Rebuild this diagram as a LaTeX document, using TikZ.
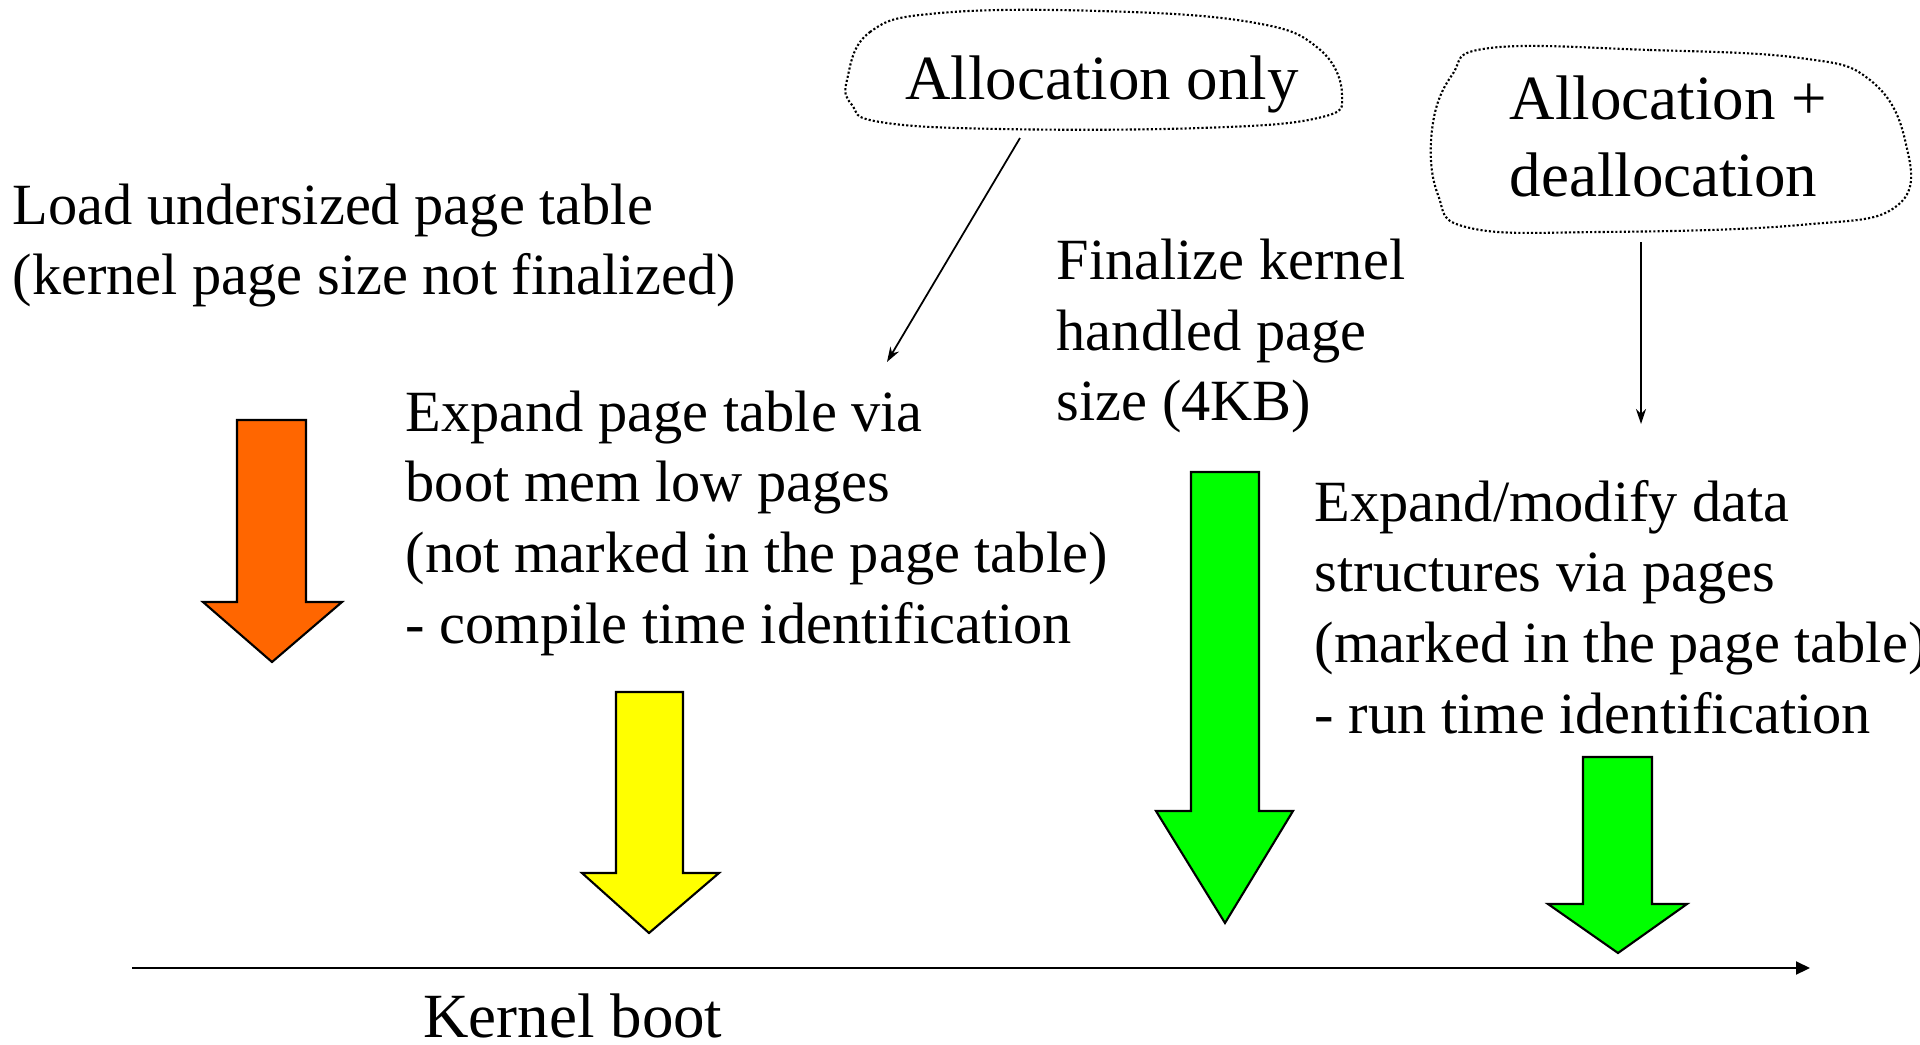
\documentclass[tikz,border=0pt]{standalone}
\usepackage{fontspec}
\setmainfont{Liberation Serif}
\usepackage{xcolor}
\usetikzlibrary{arrows.meta}
\definecolor{bootorange}{HTML}{FF6600}
\definecolor{bootyellow}{HTML}{FFFF00}
\definecolor{bootgreen}{HTML}{00FF00}

\begin{document}
\begin{tikzpicture}[x=0.01cm, y=0.01cm]
					\tikzstyle{every node}+=[inner sep=0pt]
					\tikzstyle{stagelabel}=[anchor=west, align=left, font=\fontsize{16.6}{20.1}\selectfont]
					\tikzstyle{cloudlabel}=[font=\fontsize{17.9}{21.8}\selectfont]
					\tikzstyle{cloudline}=[black, line width=0.6pt, dash pattern=on 0.6pt off 0.6pt]
					\tikzstyle{hint}=[black, line width=0.5pt, -{Stealth[length=0.15cm,width=0.1cm]}]
					\tikzstyle{block}=[draw=black, line width=0.6pt, line join=miter]
					\useasboundingbox (0,0) rectangle (1920,-1045);
					\node [stagelabel] (load) at (12,-245.5) {Load undersized page table\\(kernel page size not finalized)};
					\node [stagelabel] (expand) at (405,-523) {Expand page table via\\boot mem low pages\\(not marked in the page table)\\- compile time identification};
					\node [stagelabel] (final) at (1056,-336) {Finalize kernel\\handled page\\size (4KB)};
					\node [stagelabel] (modify) at (1314,-607) {Expand/modify data\\structures via pages\\(marked in the page table)\\- run time identification};
					\node [cloudlabel] (alloc) at (1102,-84) {Allocation only};
					\node [cloudlabel, anchor=west, align=left] (dealloc) at (1509,-136.5) {Allocation +\\deallocation};
					\node [cloudlabel, anchor=base, text depth=0pt] (boot) at (573,-1037) {Kernel boot};
					\draw [cloudline] plot [smooth cycle, tension=0.7] coordinates {(847,-80) (870,-32) (940,-13) (1100,-11) (1250,-22) (1318,-48) (1342,-95) (1318,-118) (1200,-128) (1000,-129) (880,-122) (852,-105)};
					\draw [cloudline] plot [smooth cycle, tension=0.7] coordinates {(1490,-48) (1650,-50) (1800,-58) (1870,-80) (1905,-140) (1898,-205) (1800,-225) (1600,-232) (1470,-228) (1438,-195) (1432,-130) (1452,-75)};
					\coordinate (alloc-from) at (1020,-138);
					\coordinate (alloc-to) at (887,-362);
					\coordinate (dealloc-from) at (1641,-242);
					\coordinate (dealloc-to) at (1641,-424);
					\draw [hint] (alloc-from) -- (alloc-to);
					\draw [hint] (dealloc-from) -- (dealloc-to);
					\draw [block, fill=bootorange] (237,-420) -- (306,-420) -- (306,-602) -- (342,-602) -- (272,-662) -- (203,-602) -- (237,-602) -- cycle;
					\draw [block, fill=bootyellow] (616,-692) -- (683,-692) -- (683,-873) -- (719,-873) -- (649,-933) -- (582,-873) -- (616,-873) -- cycle;
					\draw [block, fill=bootgreen] (1191,-472) -- (1259,-472) -- (1259,-811) -- (1293,-811) -- (1225,-923) -- (1156,-811) -- (1191,-811) -- cycle;
					\draw [block, fill=bootgreen] (1583,-757) -- (1652,-757) -- (1652,-904) -- (1687,-904) -- (1618,-953) -- (1548,-904) -- (1583,-904) -- cycle;
					\coordinate (axis-from) at (132,-968);
					\coordinate (axis-to) at (1810,-968);
					\draw [black, line width=0.6pt, -{Triangle[length=0.14cm,width=0.13cm]}] (axis-from) -- (axis-to);
				\end{tikzpicture}
\end{document}
